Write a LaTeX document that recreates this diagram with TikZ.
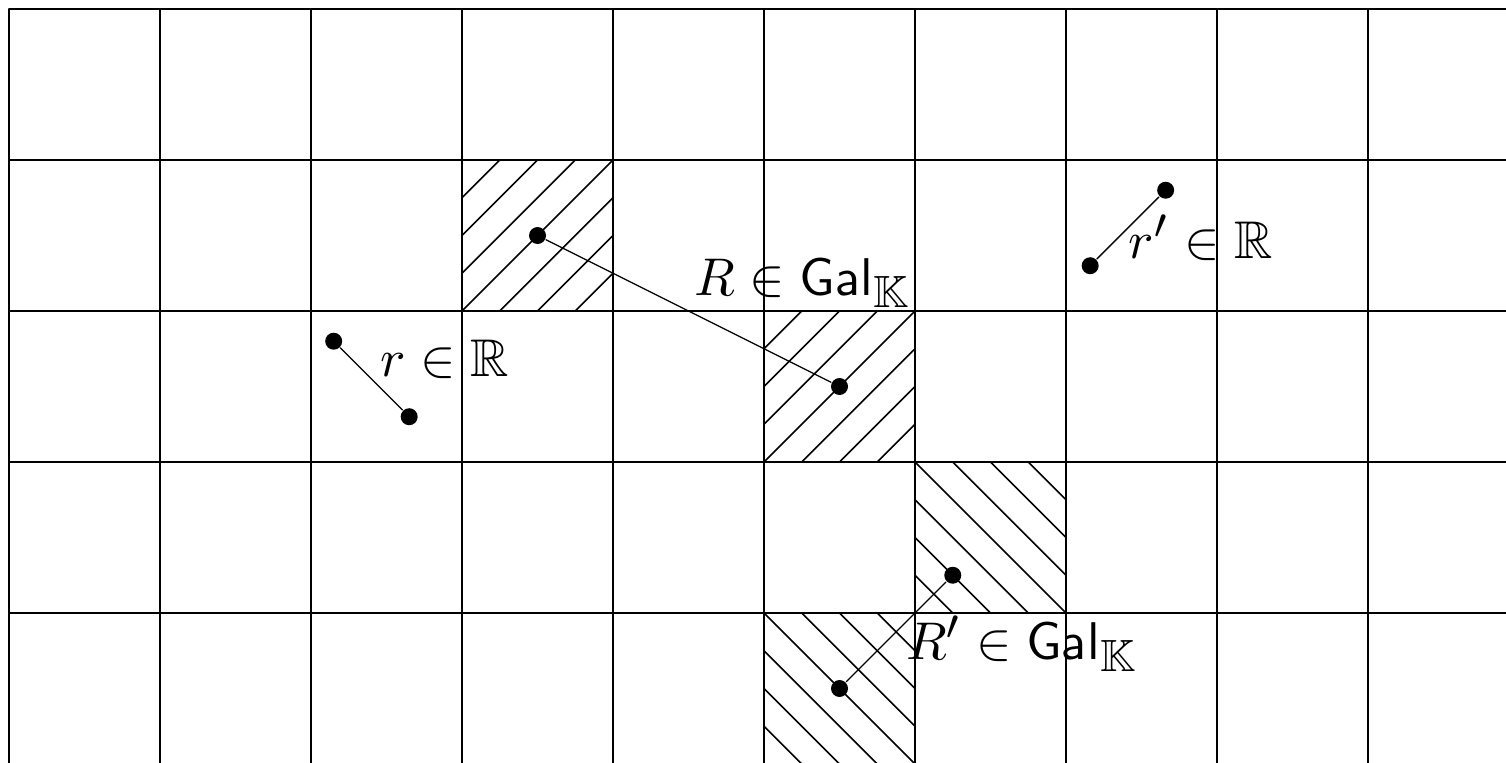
\documentclass[tikz,border=0pt]{standalone}
\usepackage{amsfonts,amsmath,amssymb}
\usepackage{tikz}
\DeclareMathSizes{10}{10}{8.5}{6}
\tikzset{
  every picture/.style={line join=round, line cap=round},
  dot/.style={circle, fill=black, inner sep=0pt, minimum size=3.2pt},
  link/.style={line width=0.25pt},
  hatch/.style={line width=0.3pt},
  lbl/.style={inner sep=0pt, anchor=base west},
}
\begin{document}
\begin{tikzpicture}
\useasboundingbox (-0.06,0.013) rectangle (9.914,5.06);
\clip (-0.06,0.013) rectangle (9.914,5.06);
\draw[line width=0.4pt] (0,-1) grid (11,5);
% hatched cells
\foreach \cx/\cy in {3/3,5/2}{
  \begin{scope}
  \clip (\cx,\cy) rectangle ++(1,1);
  \foreach \k in {-0.75,-0.5,...,0.75} \draw[hatch] (\cx+\k,\cy) -- ++(1,1);
  \end{scope}
}
\foreach \cx/\cy in {6/1,5/0}{
  \begin{scope}
  \clip (\cx,\cy) rectangle ++(1,1);
  \foreach \k in {-0.75,-0.5,...,0.75} \draw[hatch] (\cx+\k,\cy+1) -- ++(1,-1);
  \end{scope}
}
% points
\node[dot] (ra) at (2.15,2.8) {};
\node[dot] (rb) at (2.65,2.3) {};
\node[dot] (sa) at (7.16,3.3) {};
\node[dot] (sb) at (7.66,3.8) {};
\node[dot] (Ra) at (3.5,3.5) {};
\node[dot] (Rb) at (5.5,2.5) {};
\node[dot] (Sa) at (5.5,0.5) {};
\node[dot] (Sb) at (6.25,1.25) {};
\draw[link] (ra)--(rb) (sa)--(sb) (Ra)--(Rb) (Sa)--(Sb);
% labels
\node[lbl] (rlab) at (2.45,2.563) {$r\in\mathbb{R}$};
\node[lbl] (slab) at (7.41,3.351) {$r'\in\mathbb{R}$};
\node[lbl] (Rlab) at (4.53,3.106) {$R\in\mathsf{Gal}_{\mathbb{K}}$};
\node[lbl] (Slab) at (5.934,0.695) {$R'\in\mathsf{Gal}_{\mathbb{K}}$};
\end{tikzpicture}
\end{document}
